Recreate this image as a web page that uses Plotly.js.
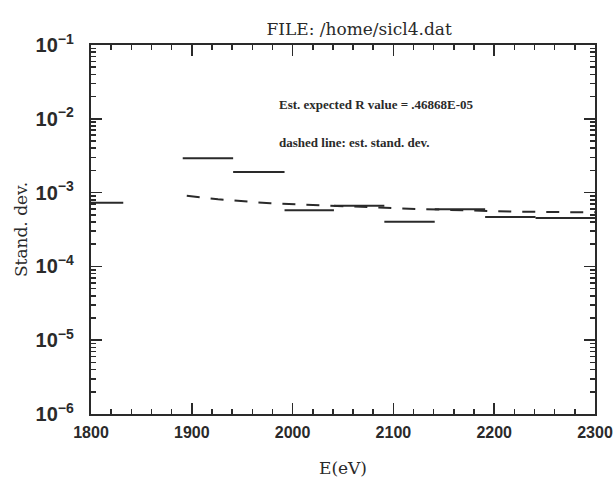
<!DOCTYPE html>
<html>
<head>
<meta charset="utf-8">
<script src="https://cdn.plot.ly/plotly-3.0.1.min.js"></script>
<style>html,body{margin:0;padding:0;background:#fff;}#chart{width:615px;height:479px;}</style>
</head>
<body>
<div id="chart"></div>
<script>
// Step segments (measured standard deviation per energy bin)
const segStart = [1782, 1891, 1941, 1992, 2041, 2091, 2141, 2191, 2241];
const segEnd   = [1832, 1941, 1992, 2041, 2091, 2141, 2191, 2241, 2300];
const segValue = [7.3e-4, 2.92e-3, 1.90e-3, 5.76e-4, 6.64e-4, 4.03e-4, 5.94e-4, 4.67e-4, 4.53e-4];

// Dashed line: estimated standard deviation
const estE   = [1895, 1926, 1978, 2024, 2123, 2222, 2271, 2300];
const estStd = [9.08e-4, 8.11e-4, 7.16e-4, 6.79e-4, 6.0e-4, 5.51e-4, 5.41e-4, 5.4e-4];

const titleText = 'FILE: /home/sicl4.dat';
const xTitle = 'E(eV)';
const yTitle = 'Stand. dev.';
const note1 = 'Est. expected R value = .46868E-05';
const note2 = 'dashed line: est. stand. dev.';

const sx = [], sy = [];
for (let i = 0; i < segStart.length; i++) {
  sx.push(segStart[i], segEnd[i], null);
  sy.push(segValue[i], segValue[i], null);
}

const ink = '#2a2a2a';
const traces = [
  {x: sx, y: sy, mode: 'lines', line: {color: ink, width: 2}, connectgaps: false, hoverinfo: 'skip'},
  {x: estE, y: estStd, mode: 'lines', line: {color: ink, width: 2, dash: '13px,11px'}, hoverinfo: 'skip'}
];

const tickFont = {family: 'Liberation Sans, Arial, sans-serif', size: 16, color: ink, weight: 'bold'};
const serifFont = {family: 'DejaVu Serif, serif', size: 17, color: ink};
const layout = {
  width: 615, height: 479,
  margin: {l: 91, r: 20, t: 45, b: 65},
  paper_bgcolor: '#fff', plot_bgcolor: '#fff',
  showlegend: false,
  title: {text: titleText, font: serifFont,
          x: 0.532, xref: 'paper', xanchor: 'center', y: 1, yref: 'paper', yanchor: 'bottom', pad: {b: 10}},
  xaxis: {
    range: [1800, 2300], dtick: 100, tick0: 1800,
    showgrid: false, zeroline: false,
    showline: true, linecolor: ink, linewidth: 2, mirror: 'allticks',
    ticks: 'inside', ticklen: 11, tickwidth: 1.5, tickcolor: ink,
    minor: {dtick: 20, ticks: 'inside', ticklen: 5, tickwidth: 1.5, tickcolor: ink, showgrid: false},
    tickfont: tickFont, ticklabelstandoff: 3,
    title: {text: xTitle, font: serifFont, standoff: 22}
  },
  yaxis: {
    type: 'log', range: [-6, -1], dtick: 1, exponentformat: 'power',
    showgrid: false, zeroline: false,
    showline: true, linecolor: ink, linewidth: 2, mirror: 'allticks',
    ticks: 'inside', ticklen: 11, tickwidth: 1.5, tickcolor: ink,
    minor: {dtick: 'D1', ticks: 'inside', ticklen: 5, tickwidth: 1.5, tickcolor: ink, showgrid: false},
    tickfont: tickFont, ticklabelstandoff: 12,
    title: {text: yTitle, font: serifFont, standoff: 4}
  },
  annotations: [
    {text: note1, xref: 'paper', yref: 'paper', x: 0.369, y: 0.840, xanchor: 'left', yanchor: 'middle',
     showarrow: false, font: {family: 'Liberation Serif, serif', size: 13, color: ink, weight: 'bold'}},
    {text: note2, xref: 'paper', yref: 'paper', x: 0.369, y: 0.737, xanchor: 'left', yanchor: 'middle',
     showarrow: false, font: {family: 'Liberation Serif, serif', size: 13, color: ink, weight: 'bold'}}
  ]
};

Plotly.newPlot('chart', traces, layout, {staticPlot: true, displayModeBar: false});
</script>
</body>
</html>
